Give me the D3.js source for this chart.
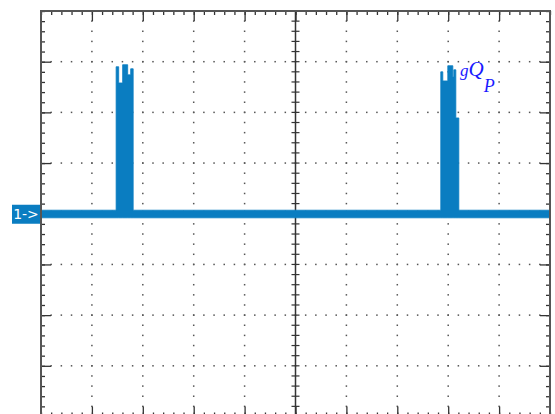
<!DOCTYPE html>
<html>
<head>
<meta charset="utf-8">
<script src="https://cdn.jsdelivr.net/npm/d3@7"></script>
<style>
  body { margin: 0; background: #fff; }
  svg { display: block; }
</style>
</head>
<body>
<div id="scope"></div>
<script>
// time in divisions, trace envelope in divisions
const traceTime  = [0, 1.476, 1.526, 1.604, 1.703, 1.762, 1.811, 7.854, 7.894, 7.992, 8.091, 8.110, 8.150, 8.209, 10];
const traceUpper = [0.07, 2.90, 2.58, 2.94, 2.74, 2.86, 0.07, 2.80, 2.62, 2.92, 2.70, 2.84, 1.89, 0.07, 0.07];
const traceLower = [-0.08, -0.08, -0.08, -0.08, -0.08, -0.08, -0.08, -0.08, -0.08, -0.08, -0.08, -0.08, -0.08, -0.08, -0.08];

const xDivs = 10;
const yDivs = 8;
const channelLabel = '1->';

let width = 555, height = 414;
let traceColor = '#0a7dc1';

let x = d3.scaleLinear().domain([0, xDivs]).range([41, 550]);
let y = d3.scaleLinear().domain([-yDivs / 2, yDivs / 2]).range([416.5, 11]);

let svg = d3.select('#scope').append('svg')
    .attr('width', width)
    .attr('height', height);

let majorX = d3.range(1, xDivs);
let majorY = d3.range(-yDivs / 2 + 1, yDivs / 2);
let minorX = d3.range(0, xDivs * 5 + 1).map(d => d / 5);
let minorY = d3.range(-yDivs / 2 * 5, yDivs / 2 * 5 + 1).map(d => d / 5);

// dotted grid
let dots = svg.append('g').attr('fill', '#555');
majorX.filter(d => d !== xDivs / 2).forEach(gx => {
    dots.selectAll(null)
        .data(minorY)
        .join('rect')
            .attr('x', x(gx) - 0.75)
            .attr('y', d => y(d) - 0.75)
            .attr('width', 1.5)
            .attr('height', 1.5);
});
majorY.filter(d => d !== 0).forEach(gy => {
    dots.selectAll(null)
        .data(minorX)
        .join('rect')
            .attr('x', d => x(d) - 0.75)
            .attr('y', y(gy) - 0.75)
            .attr('width', 1.5)
            .attr('height', 1.5);
});

// center cross lines with ticks
let center = svg.append('g').attr('stroke', '#333');
center.append('line')
    .attr('x1', x(xDivs / 2)).attr('x2', x(xDivs / 2))
    .attr('y1', y.range()[1]).attr('y2', y.range()[0])
    .attr('stroke-width', 1.5);
center.append('line')
    .attr('x1', x.range()[0]).attr('x2', x.range()[1])
    .attr('y1', y(0)).attr('y2', y(0))
    .attr('stroke-width', 1.5);
center.selectAll(null)
    .data(minorY)
    .join('line')
        .attr('x1', x(xDivs / 2) - 4).attr('x2', x(xDivs / 2) + 4)
        .attr('y1', d => y(d)).attr('y2', d => y(d))
        .attr('stroke-width', 1.2);
center.selectAll(null)
    .data(minorX)
    .join('line')
        .attr('y1', y(0) - 3).attr('y2', y(0) + 3)
        .attr('x1', d => x(d)).attr('x2', d => x(d))
        .attr('stroke-width', 1.2);

// border ticks
function borderTicks(axis, transform, values, size) {
    let g = svg.append('g')
        .attr('transform', transform)
        .call(axis.tickValues(values).tickSize(size).tickFormat(''));
    g.select('.domain').remove();
    g.selectAll('line').attr('stroke', '#333').attr('stroke-width', 1.3);
}
borderTicks(d3.axisBottom(x), `translate(0,${y.range()[1]})`, minorX, 4);
borderTicks(d3.axisBottom(x), `translate(0,${y.range()[1]})`, majorX, 10);
borderTicks(d3.axisTop(x), `translate(0,${y.range()[0]})`, minorX, 4);
borderTicks(d3.axisTop(x), `translate(0,${y.range()[0]})`, majorX, 10);
borderTicks(d3.axisRight(y), `translate(${x.range()[0]},0)`, minorY, 4);
borderTicks(d3.axisRight(y), `translate(${x.range()[0]},0)`, majorY, 10);
borderTicks(d3.axisLeft(y), `translate(${x.range()[1]},0)`, minorY, 4);
borderTicks(d3.axisLeft(y), `translate(${x.range()[1]},0)`, majorY, 10);

// trace envelope
let area = d3.area()
    .x((d, i) => x(traceTime[i]))
    .y0((d, i) => y(traceLower[i]))
    .y1((d, i) => y(traceUpper[i]))
    .curve(d3.curveStepAfter);

svg.append('path')
    .datum(traceTime)
    .attr('fill', traceColor)
    .attr('stroke', traceColor)
    .attr('stroke-width', 0.8)
    .attr('d', area);

// frame
svg.append('rect')
    .attr('x', x.range()[0])
    .attr('y', y.range()[1])
    .attr('width', x.range()[1] - x.range()[0])
    .attr('height', y.range()[0] - y.range()[1])
    .attr('fill', 'none')
    .attr('stroke', '#555')
    .attr('stroke-width', 2);

// channel marker
let marker = svg.append('g').attr('transform', `translate(12,${y(0)})`);
marker.append('rect')
    .attr('x', 0).attr('y', -9)
    .attr('width', 28).attr('height', 19)
    .attr('fill', traceColor);
marker.append('text')
    .attr('x', 14).attr('y', 5)
    .attr('text-anchor', 'middle')
    .attr('fill', '#fff')
    .style('font', '14px "DejaVu Sans", sans-serif')
    .text(channelLabel);

// label
let label = svg.append('text')
    .attr('x', 460).attr('y', 76)
    .attr('fill', '#1a1aff')
    .style('font-family', '"Liberation Serif", serif')
    .style('font-style', 'italic');
label.append('tspan').style('font-size', '17px').text('g');
label.append('tspan').style('font-size', '21px').text('Q');
label.append('tspan').attr('dy', 16).attr('dx', 0).style('font-size', '18px').text('P');
</script>
</body>
</html>
